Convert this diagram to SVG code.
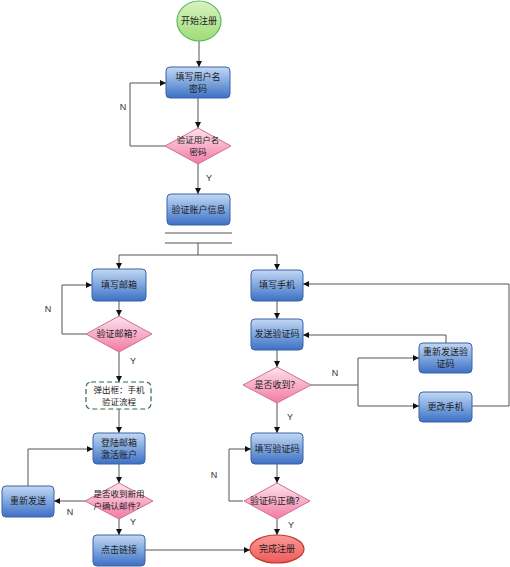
<svg xmlns="http://www.w3.org/2000/svg" width="510" height="567" viewBox="0 0 510 567">
<defs>
<linearGradient id="gBlue" x1="0" y1="0" x2="0" y2="1"><stop offset="0" stop-color="#c3d8f3"/><stop offset="0.5" stop-color="#7ea6de"/><stop offset="1" stop-color="#3d6fc4"/></linearGradient>
<linearGradient id="gPink" x1="0" y1="0" x2="0" y2="1"><stop offset="0" stop-color="#fde3ee"/><stop offset="1" stop-color="#f27aa3"/></linearGradient>
<linearGradient id="gGreen" x1="0" y1="0" x2="0" y2="1"><stop offset="0" stop-color="#d8f3c0"/><stop offset="1" stop-color="#9edc78"/></linearGradient>
<linearGradient id="gRed" x1="0" y1="0" x2="0" y2="1"><stop offset="0" stop-color="#fb9a9a"/><stop offset="1" stop-color="#ee5a5a"/></linearGradient>
<marker id="arr" viewBox="0 0 10 10" refX="10" refY="5" markerWidth="6" markerHeight="6" orient="auto" markerUnits="userSpaceOnUse"><path d="M0,0 L10,5 L0,10 z" fill="#111"/></marker>
</defs>
<style>
.box{fill:url(#gBlue);stroke:#3a63a8;stroke-width:1}
.dia{fill:url(#gPink);stroke:#d0708f;stroke-width:1}
.t{font-family:"Noto Sans CJK SC","Liberation Sans",sans-serif;font-size:9px;fill:#222;text-anchor:middle}
.t2{font-family:"Noto Sans CJK SC","Liberation Sans",sans-serif;font-size:8.5px;fill:#222;text-anchor:middle}
.lbl{font-family:"Liberation Sans",sans-serif;font-size:9px;fill:#333;text-anchor:middle}
.c{fill:none;stroke:#555;stroke-width:1}
.ca{fill:none;stroke:#555;stroke-width:1;marker-end:url(#arr)}
</style>
<rect width="510" height="567" fill="#fff"/>
<g id="connectors">
<line class="ca" x1="199" y1="41" x2="199" y2="67"/>
<line class="ca" x1="198" y1="98" x2="198" y2="128"/>
<polyline class="ca" points="165,146 130,146 130,83 166,83"/>
<line class="ca" x1="198" y1="164" x2="198" y2="194"/>
<line class="c" x1="165" y1="233" x2="232" y2="233"/>
<line class="c" x1="165" y1="243" x2="232" y2="243"/>
<line class="c" x1="198" y1="243" x2="198" y2="255"/>
<polyline class="ca" points="198,255 119,255 119,269"/>
<polyline class="ca" points="198,255 277,255 277,270"/>
<line class="ca" x1="119" y1="301" x2="119" y2="316"/>
<polyline class="ca" points="86,334 62,334 62,285 92,285"/>
<line class="ca" x1="119" y1="352" x2="119" y2="382"/>
<line class="ca" x1="119" y1="409" x2="119" y2="433"/>
<line class="ca" x1="119" y1="464" x2="119" y2="483"/>
<line class="ca" x1="85" y1="501" x2="54" y2="501"/>
<polyline class="ca" points="28,486 28,449 93,449"/>
<line class="ca" x1="119" y1="519" x2="119" y2="535"/>
<line class="ca" x1="145" y1="550" x2="250" y2="550"/>
<line class="ca" x1="277" y1="301" x2="277" y2="319"/>
<line class="ca" x1="277" y1="350" x2="277" y2="367"/>
<polyline class="c" points="311,385 358,385"/>
<polyline class="ca" points="358,385 358,358 419,358"/>
<polyline class="ca" points="358,385 358,406 419,406"/>
<polyline class="ca" points="446,343 446,335 303,335"/>
<polyline class="ca" points="472,406 509,406 509,284 303,284"/>
<line class="ca" x1="277" y1="403" x2="277" y2="433"/>
<line class="ca" x1="277" y1="464" x2="277" y2="483"/>
<polyline class="ca" points="243,501 229,501 229,449 251,449"/>
<line class="ca" x1="277" y1="519" x2="277" y2="535"/>
<text class="lbl" x="123" y="110">N</text>
<text class="lbl" x="209" y="181">Y</text>
<text class="lbl" x="48" y="312">N</text>
<text class="lbl" x="133" y="364">Y</text>
<text class="lbl" x="70" y="515">N</text>
<text class="lbl" x="133" y="525">Y</text>
<text class="lbl" x="335" y="376">N</text>
<text class="lbl" x="290" y="420">Y</text>
<text class="lbl" x="214" y="478">N</text>
<text class="lbl" x="291" y="528">Y</text>
</g>
<g id="start"><ellipse cx="199" cy="21" rx="22" ry="20" fill="url(#gGreen)" stroke="#5cb85c" stroke-width="1.2"/><text class="t" x="199" y="24">开始注册</text></g>
<g id="fillUser"><rect class="box" x="166" y="67" width="64" height="31" rx="4"/><text class="t" x="198" y="80">填写用户名</text><text class="t" x="198" y="92">密码</text></g>
<g id="checkUser"><polygon class="dia" points="198,128 231,146 198,164 165,146"/><text class="t2" x="198" y="143">验证用户名</text><text class="t2" x="198" y="155">密码</text></g>
<g id="checkAccount"><rect class="box" x="167" y="194" width="63" height="31" rx="4"/><text class="t" x="198.5" y="213">验证账户信息</text></g>
<g id="fillEmail"><rect class="box" x="92" y="269" width="54" height="32" rx="4"/><text class="t" x="119" y="288">填写邮箱</text></g>
<g id="checkEmail"><polygon class="dia" points="119,316 152,334 119,352 86,334"/><text class="t" x="119" y="337">验证邮箱？</text></g>
<g id="popup"><rect x="86" y="382" width="65" height="27" rx="5" fill="#fff" stroke="#2e6b45" stroke-width="1.2" stroke-dasharray="5,3"/><text class="t2" x="119" y="393">弹出框：手机</text><text class="t2" x="119" y="405">验证流程</text></g>
<g id="loginEmail"><rect class="box" x="93" y="433" width="52" height="31" rx="4"/><text class="t" x="119" y="446">登陆邮箱</text><text class="t" x="119" y="458">激活账户</text></g>
<g id="checkConfirm"><polygon class="dia" points="119,483 153,501 119,519 85,501"/><text class="t2" x="119" y="497">是否收到新用</text><text class="t2" x="119" y="509">户确认邮件？</text></g>
<g id="resend"><rect class="box" x="2" y="486" width="52" height="31" rx="4"/><text class="t" x="28" y="504">重新发送</text></g>
<g id="clickLink"><rect class="box" x="93" y="535" width="52" height="31" rx="4"/><text class="t" x="119" y="553">点击链接</text></g>
<g id="fillPhone"><rect class="box" x="251" y="270" width="52" height="31" rx="4"/><text class="t" x="277" y="288">填写手机</text></g>
<g id="sendCode"><rect class="box" x="251" y="319" width="52" height="31" rx="4"/><text class="t" x="277" y="337">发送验证码</text></g>
<g id="received"><polygon class="dia" points="277,367 311,385 277,403 243,385"/><text class="t" x="277" y="388">是否收到？</text></g>
<g id="resendCode"><rect class="box" x="419" y="343" width="53" height="30" rx="4"/><text class="t" x="445.5" y="355">重新发送验</text><text class="t" x="445.5" y="367">证码</text></g>
<g id="changePhone"><rect class="box" x="419" y="392" width="53" height="30" rx="4"/><text class="t" x="445.5" y="410">更改手机</text></g>
<g id="fillCode"><rect class="box" x="251" y="433" width="52" height="31" rx="4"/><text class="t" x="277" y="452">填写验证码</text></g>
<g id="checkCode"><polygon class="dia" points="277,483 310,501 277,519 244,501"/><text class="t" x="277" y="504">验证码正确？</text></g>
<g id="finish"><ellipse cx="277" cy="549" rx="27" ry="14" fill="url(#gRed)" stroke="#c0392b" stroke-width="1.2"/><text class="t" x="277" y="552">完成注册</text></g>
</svg>
